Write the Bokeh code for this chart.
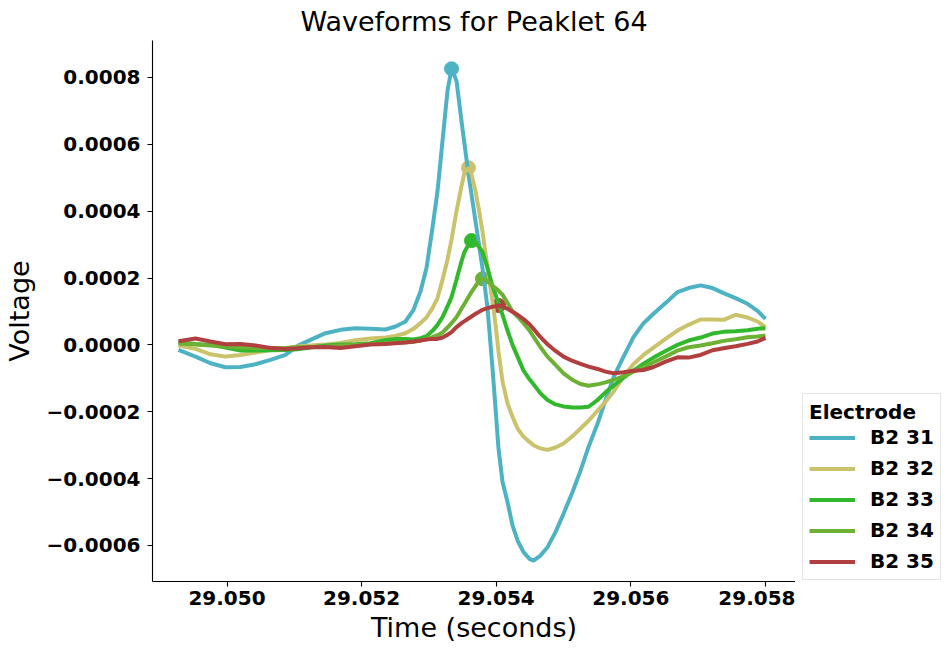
from bokeh.plotting import figure
from bokeh.layouts import row
from bokeh.models import Legend, LegendItem, FixedTicker, Range1d
from bokeh.embed import file_html
from bokeh.resources import INLINE
import numpy as np

# shared sample times (seconds)
time = [29.049279, 29.049532, 29.049755, 29.049978, 29.050201, 29.050423, 29.050646, 29.050869,
        29.051048, 29.051241, 29.051464, 29.051686, 29.051909, 29.052132, 29.052355, 29.052504,
        29.052652, 29.052771, 29.052875, 29.052964, 29.053053, 29.053128, 29.053202, 29.053276,
        29.053336, 29.053410, 29.053484, 29.053529, 29.053588, 29.053633, 29.053692, 29.053737,
        29.053796, 29.053871, 29.053945, 29.053990, 29.054034, 29.054094, 29.054168, 29.054242,
        29.054317, 29.054406, 29.054495, 29.054554, 29.054658, 29.054762, 29.054881, 29.055000,
        29.055134, 29.055253, 29.055372, 29.055505, 29.055624, 29.055743, 29.055892, 29.056040,
        29.056189, 29.056337, 29.056516, 29.056694, 29.056857, 29.057036, 29.057214, 29.057378,
        29.057556, 29.057734, 29.057883, 29.058000]

b2_31 = [-15e-6, -35e-6, -55e-6, -67e-6, -66e-6, -58e-6, -45e-6, -30e-6,
         -3e-6, 15e-6, 35e-6, 45e-6, 50e-6, 48e-6, 46e-6, 55e-6,
         70e-6, 105e-6, 160e-6, 230e-6, 350e-6, 460e-6, 610e-6, 760e-6,
         826e-6, 790e-6, 670e-6, 600e-6, 510e-6, 450e-6, 370e-6, 310e-6,
         230e-6, 110e-6, -70e-6, -190e-6, -310e-6, -410e-6, -470e-6, -540e-6,
         -585e-6, -620e-6, -640e-6, -645e-6, -630e-6, -605e-6, -560e-6, -505e-6,
         -440e-6, -376e-6, -305e-6, -236e-6, -165e-6, -97e-6, -35e-6, 23e-6,
         65e-6, 93e-6, 125e-6, 158e-6, 170e-6, 178e-6, 170e-6, 155e-6,
         140e-6, 123e-6, 102e-6, 78e-6]

b2_32 = [-2e-6, -12e-6, -28e-6, -35e-6, -30e-6, -23e-6, -15e-6, -9e-6,
         -5e-6, -2e-6, 1e-6, 6e-6, 14e-6, 19e-6, 22e-6, 27e-6,
         35e-6, 48e-6, 65e-6, 82e-6, 110e-6, 140e-6, 195e-6, 255e-6,
         315e-6, 400e-6, 475e-6, 515e-6, 530e-6, 510e-6, 460e-6, 410e-6,
         340e-6, 230e-6, 130e-6, 60e-6, -20e-6, -110e-6, -175e-6, -215e-6,
         -250e-6, -275e-6, -290e-6, -300e-6, -310e-6, -314e-6, -307e-6, -295e-6,
         -273e-6, -250e-6, -227e-6, -197e-6, -170e-6, -140e-6, -95e-6, -57e-6,
         -30e-6, -8e-6, 18e-6, 43e-6, 60e-6, 76e-6, 76e-6, 75e-6,
         90e-6, 82e-6, 70e-6, 53e-6]

b2_33 = [8e-6, 3e-6, 0.0, -8e-6, -17e-6, -17e-6, -16e-6, -15e-6,
         -13e-6, -8e-6, -2e-6, 1e-6, 2e-6, 5e-6, 14e-6, 18e-6,
         18e-6, 16e-6, 20e-6, 26e-6, 42e-6, 60e-6, 83e-6, 115e-6,
         143e-6, 195e-6, 250e-6, 278e-6, 300e-6, 312e-6, 308e-6, 295e-6,
         278e-6, 230e-6, 175e-6, 150e-6, 125e-6, 90e-6, 43e-6, 0.0,
         -35e-6, -77e-6, -103e-6, -118e-6, -145e-6, -165e-6, -178e-6, -184e-6,
         -187e-6, -187e-6, -185e-6, -165e-6, -142e-6, -122e-6, -98e-6, -77e-6,
         -56e-6, -38e-6, -18e-6, 0.0, 13e-6, 22e-6, 34e-6, 39e-6,
         41e-6, 44e-6, 48e-6, 50e-6]

b2_34 = [4e-6, 1e-6, -2e-6, -5e-6, -8e-6, -9e-6, -9e-6, -10e-6,
         -7e-6, -6e-6, -5e-6, -2e-6, 0.0, 3e-6, 5e-6, 7e-6,
         8e-6, 9e-6, 13e-6, 18e-6, 23e-6, 29e-6, 37e-6, 52e-6,
         65e-6, 83e-6, 108e-6, 123e-6, 143e-6, 158e-6, 176e-6, 188e-6,
         198e-6, 192e-6, 177e-6, 170e-6, 162e-6, 150e-6, 125e-6, 100e-6,
         85e-6, 65e-6, 43e-6, 25e-6, -7e-6, -35e-6, -60e-6, -85e-6,
         -105e-6, -117e-6, -122e-6, -118e-6, -112e-6, -105e-6, -93e-6, -80e-6,
         -67e-6, -52e-6, -35e-6, -17e-6, -7e-6, -2e-6, 5e-6, 12e-6,
         17e-6, 23e-6, 25e-6, 28e-6]

b2_35 = [11e-6, 19e-6, 10e-6, 2e-6, 3e-6, -2e-6, -9e-6, -12e-6,
         -10e-6, -7e-6, -6e-6, -9e-6, -4e-6, 1e-6, 3e-6, 5e-6,
         7e-6, 10e-6, 13e-6, 16e-6, 18e-6, 18e-6, 22e-6, 30e-6,
         38e-6, 53e-6, 65e-6, 71e-6, 79e-6, 85e-6, 93e-6, 98e-6,
         105e-6, 110e-6, 114e-6, 116e-6, 118e-6, 115e-6, 108e-6, 99e-6,
         90e-6, 77e-6, 62e-6, 48e-6, 23e-6, 2e-6, -18e-6, -35e-6,
         -48e-6, -57e-6, -65e-6, -72e-6, -80e-6, -85e-6, -82e-6, -77e-6,
         -75e-6, -66e-6, -50e-6, -37e-6, -38e-6, -30e-6, -16e-6, -10e-6,
         -4e-6, 3e-6, 10e-6, 21e-6]

labels = ["B2 31", "B2 32", "B2 33", "B2 34", "B2 35"]
colors = ["#4db3c4", "#cbc26c", "#31b82d", "#6cb034", "#b13f3f"]
series = [b2_31, b2_32, b2_33, b2_34, b2_35]

x_ticks = [29.050, 29.052, 29.054, 29.056, 29.058]
x_tick_labels = ["29.050", "29.052", "29.054", "29.056", "29.058"]
y_ticks = [-0.0006, -0.0004, -0.0002, 0.0, 0.0002, 0.0004, 0.0006, 0.0008]
y_tick_labels = ["\u22120.0006", "\u22120.0004", "\u22120.0002", "0.0000",
                 "0.0002", "0.0004", "0.0006", "0.0008"]

FONT = "DejaVu Sans"
LW = 4

p = figure(width=795, height=646, output_backend="svg", toolbar_location=None,
           x_range=Range1d(29.048893, 29.058447), y_range=Range1d(-7.077e-4, 9.105e-4),
           title="Waveforms for Peaklet 64",
           x_axis_label="Time (seconds)", y_axis_label="Voltage",
           min_border_left=152, min_border_top=40, min_border_bottom=65, min_border_right=0)

p.outline_line_color = None
p.grid.visible = False
p.background_fill_color = "white"

p.title.text_font = FONT
p.title.text_font_size = "27px"
p.title.text_font_style = "normal"
p.title.text_color = "black"
p.title.align = "center"
p.title.vertical_align = "top"
p.title.standoff = 4

for ax in (p.xaxis, p.yaxis):
    ax.axis_line_width = 1.1
    ax.axis_line_color = "black"
    ax.major_tick_in = 0
    ax.major_tick_out = 5
    ax.major_tick_line_width = 1.1
    ax.minor_tick_line_color = None
    ax.major_label_text_font = FONT
    ax.major_label_text_font_size = "20px"
    ax.major_label_text_font_style = "bold"
    ax.major_label_text_color = "black"
    ax.axis_label_text_font = FONT
    ax.axis_label_text_font_size = "27px"
    ax.axis_label_text_font_style = "normal"
    ax.axis_label_text_color = "black"

p.xaxis.ticker = FixedTicker(ticks=x_ticks)
p.xaxis.major_label_overrides = dict(zip(x_ticks, x_tick_labels))
p.xaxis.major_label_standoff = 4
p.xaxis.axis_label_standoff = 4
p.yaxis.ticker = FixedTicker(ticks=y_ticks)
p.yaxis.major_label_overrides = dict(zip(y_ticks, y_tick_labels))
p.yaxis.major_label_standoff = 7
p.yaxis.axis_label_standoff = 9

# peak markers sit underneath all of the traces
for vals, c in zip(series, colors):
    i = int(np.argmax(vals))
    p.scatter([time[i]], [vals[i]], size=14, color=c)

for vals, c in zip(series, colors):
    p.line(time, vals, line_width=LW, color=c)

# legend lives in a narrow side figure so it is not clipped by the data frame;
# its renderers hold the same series but fall outside that figure's ranges
lg = figure(width=149, height=646, output_backend="svg", toolbar_location=None,
            x_range=Range1d(0, 1), y_range=Range1d(0, 1),
            x_axis_location=None, y_axis_location=None, min_border=0)
lg.outline_line_color = None
lg.grid.visible = False

items = []
for vals, c, lab in zip(series, colors, labels):
    r = lg.line(time, vals, line_width=LW, color=c)
    items.append(LegendItem(label=lab, renderers=[r]))

legend = Legend(items=items, title="Electrode", location=(7, 1))
legend.title_text_font = FONT
legend.title_text_font_size = "20px"
legend.title_text_font_style = "bold"
legend.title_text_color = "black"
legend.label_text_font = FONT
legend.label_text_font_size = "20px"
legend.label_text_font_style = "bold"
legend.label_text_color = "black"
legend.glyph_width = 46
legend.glyph_height = 21
legend.label_height = 21
legend.label_standoff = 15
legend.spacing = 7
legend.padding = 6
legend.margin = 0
legend.title_standoff = 1
legend.border_line_color = "#cccccc"
legend.border_line_width = 1
legend.background_fill_alpha = 0.8
lg.add_layout(legend)

layout = row(p, lg)
open("out.html", "w").write(file_html(layout, INLINE))
